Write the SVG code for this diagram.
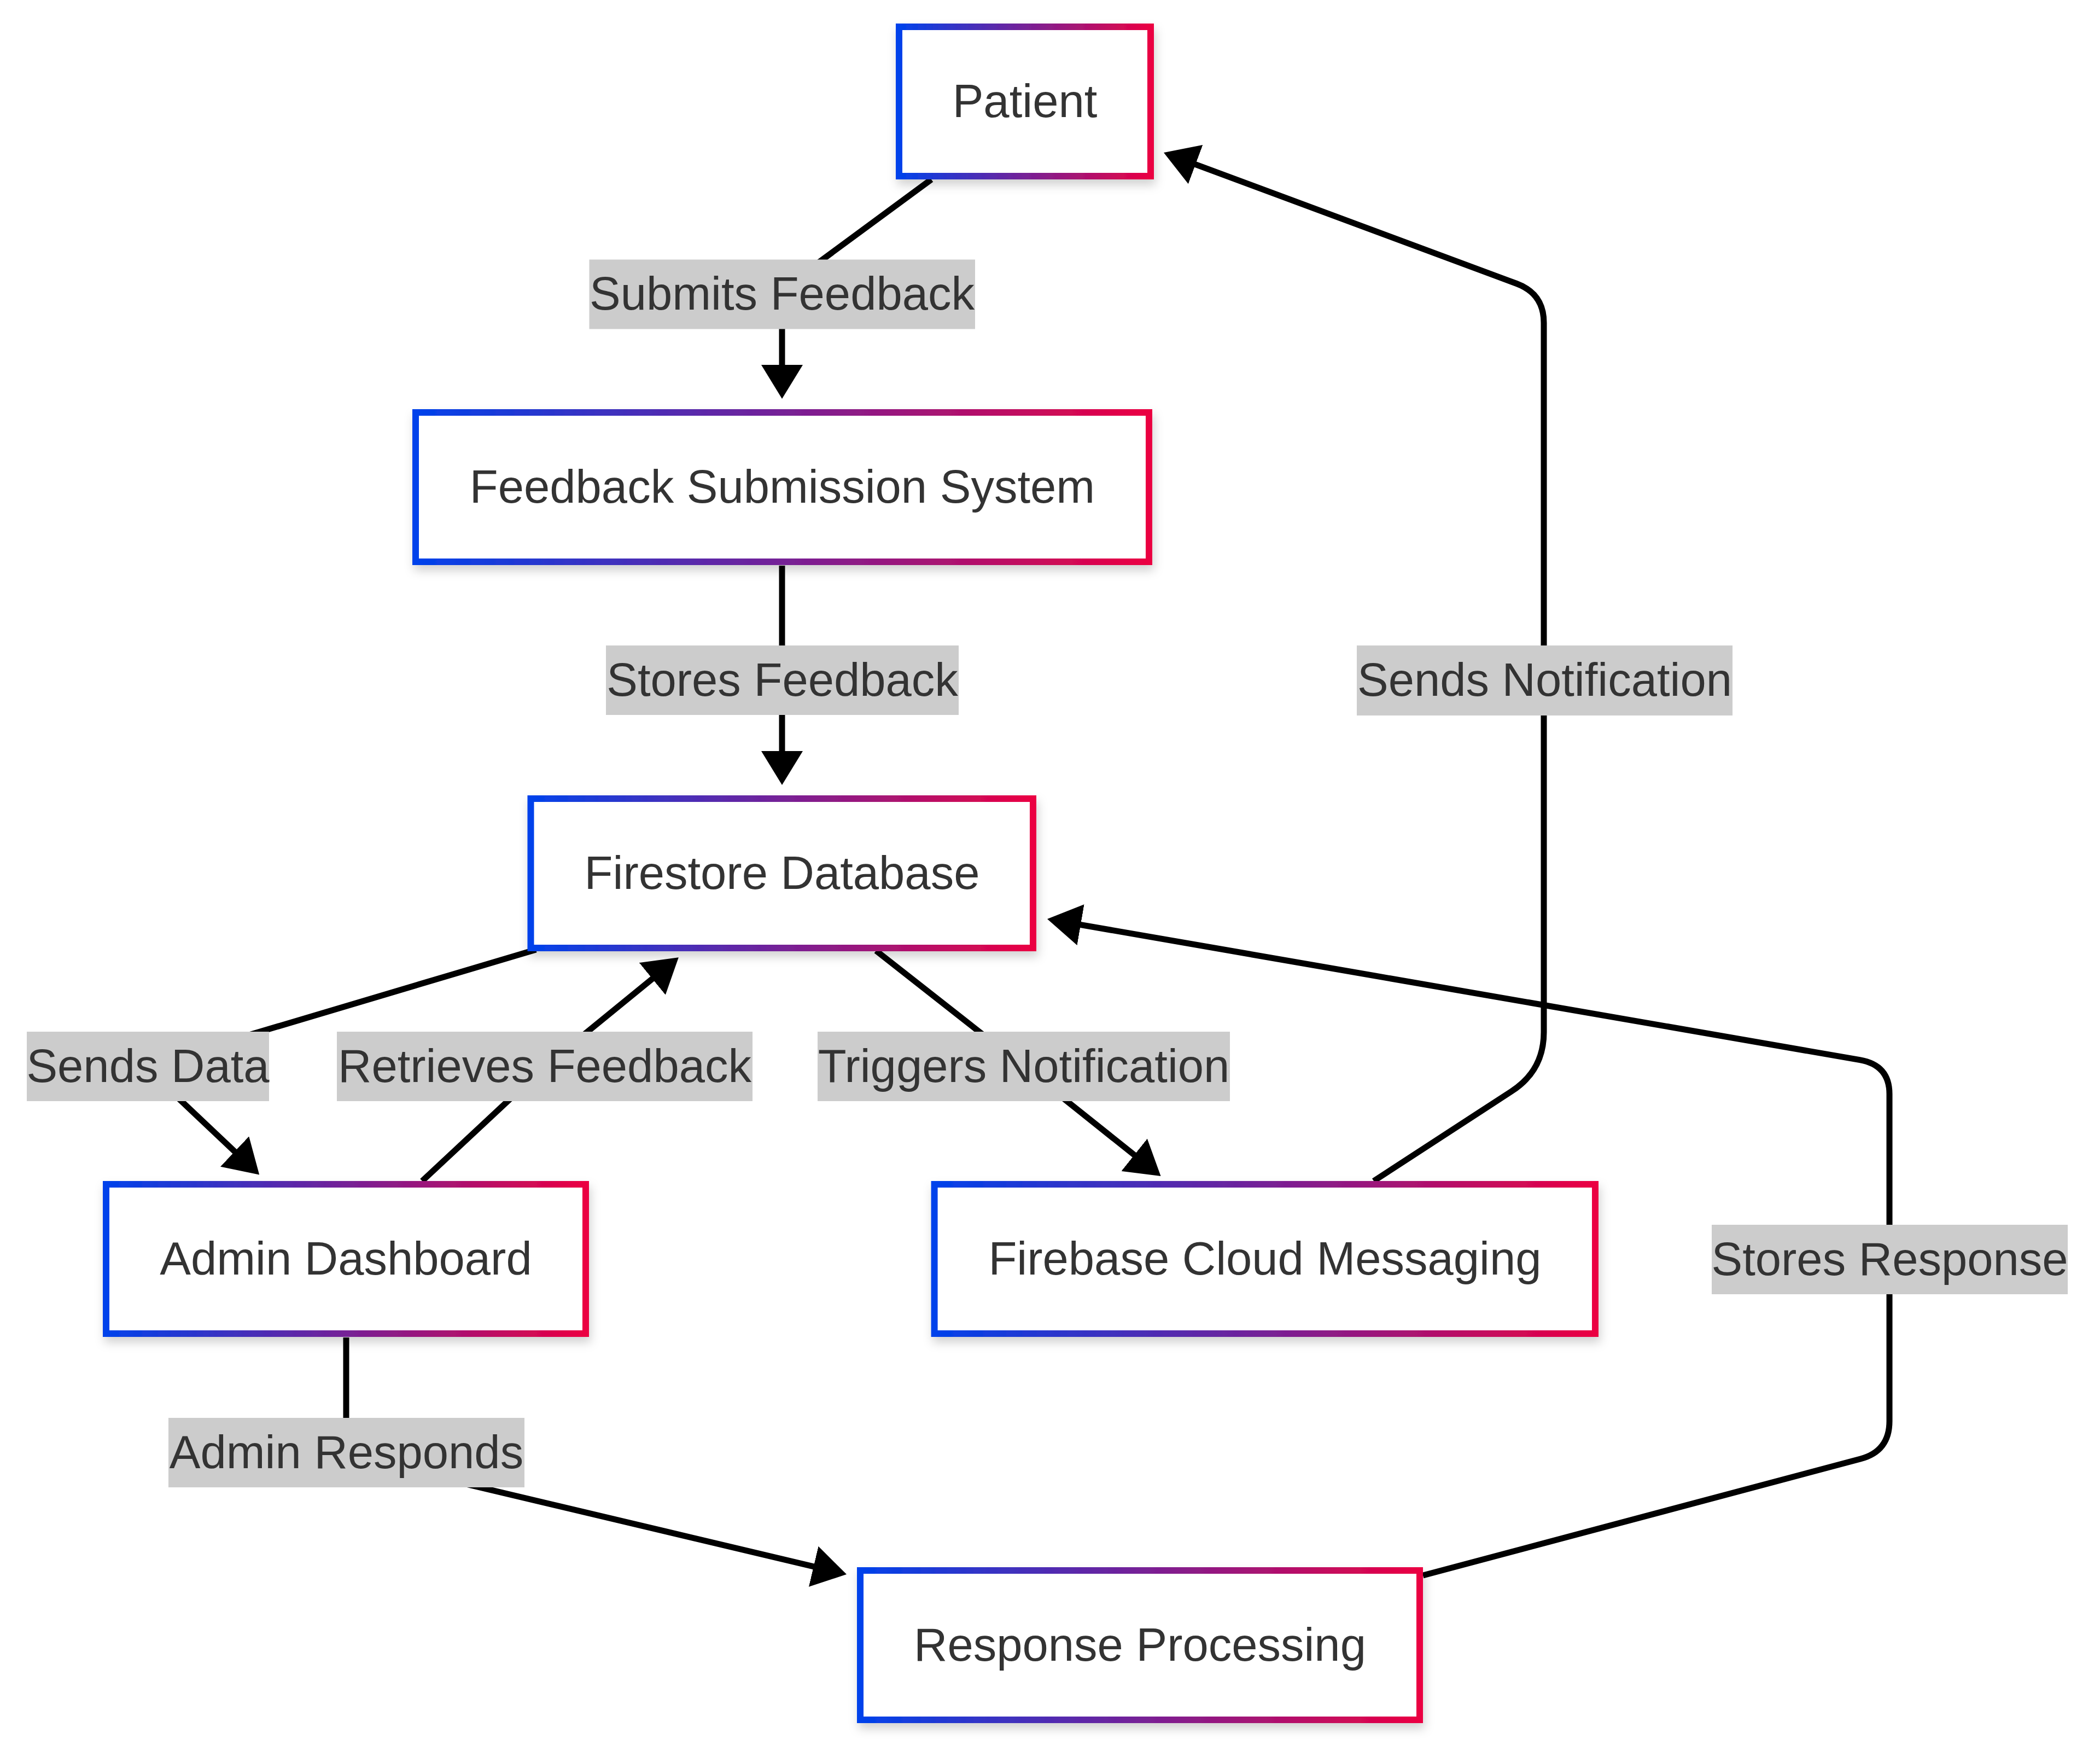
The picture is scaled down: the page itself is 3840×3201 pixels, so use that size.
<svg xmlns="http://www.w3.org/2000/svg" width="3840" height="3201" viewBox="0 0 3840 3201">
<style>
.node rect{fill:#ffffff;stroke:url(#grad);stroke-width:12;filter:url(#shadow);}
.node text{font-family:"Liberation Sans",Arial,sans-serif;font-size:85px;fill:#333333;text-anchor:middle;}
.edge{fill:none;stroke:#000000;stroke-width:11;marker-end:url(#arrow);}
.lbl rect{fill:#cccccc;}
.lbl text{font-family:"Liberation Sans",Arial,sans-serif;font-size:85px;fill:#333333;text-anchor:middle;}
</style>
<defs>
<linearGradient id="grad" x1="0" y1="0" x2="1" y2="0">
<stop offset="0" stop-color="#0042eb"/>
<stop offset="1" stop-color="#eb0042"/>
</linearGradient>
<filter id="shadow" x="-10%" y="-20%" width="120%" height="150%">
<feDropShadow dx="3" dy="10" stdDeviation="9" flood-color="#000000" flood-opacity="0.18"/>
</filter>
<marker id="arrow" markerUnits="userSpaceOnUse" viewBox="0 0 62 76" markerWidth="62" markerHeight="76" refX="48" refY="38" orient="auto">
<path d="M0,0 L62,38 L0,76 z" fill="#000000"/>
</marker>
</defs>
<rect x="0" y="0" width="3840" height="3201" fill="#ffffff"/>
<g id="connectors">
<path class="edge" d="M1703,328 L1430,529 L1430,715"/>
<path class="edge" d="M1430,1034 L1430,1421"/>
<path class="edge" d="M980,1736 L264,1949 L464,2138"/>
<path class="edge" d="M772,2159 L996,1950 L1230,1759"/>
<path class="edge" d="M1602,1738 L1872,1950 L2111.6,2141.3"/>
<path class="edge" d="M2512,2159 L2764,1995 Q2823,1957 2823,1887 L2823,590 Q2823,537 2773.3,518.5 L2141.1,283.9"/>
<path class="edge" d="M2602,2880 L3402,2667 Q3455,2653 3455,2598 L3455,2000 Q3455,1947 3400.8,1937.6 L1928.8,1682.4"/>
<path class="edge" d="M633,2445 L633,2661 L1534.4,2874.8"/>
<g class="lbl" id="label-submits">
<rect x="1077.5" y="474.5" width="705.5" height="127"/>
<text x="1430" y="566">Submits Feedback</text>
</g>
<g class="lbl" id="label-stores-feedback">
<rect x="1108" y="1180" width="645" height="127"/>
<text x="1430.5" y="1271.5">Stores Feedback</text>
</g>
<g class="lbl" id="label-sends-notification">
<rect x="2481" y="1180" width="687" height="128"/>
<text x="2824.5" y="1272">Sends Notification</text>
</g>
<g class="lbl" id="label-sends-data">
<rect x="49" y="1886" width="443" height="127"/>
<text x="270.5" y="1977.5">Sends Data</text>
</g>
<g class="lbl" id="label-retrieves">
<rect x="616" y="1886" width="760" height="127"/>
<text x="996" y="1977.5">Retrieves Feedback</text>
</g>
<g class="lbl" id="label-triggers">
<rect x="1495" y="1886" width="754" height="127"/>
<text x="1872" y="1977.5">Triggers Notification</text>
</g>
<g class="lbl" id="label-stores-response">
<rect x="3130" y="2239" width="651" height="127"/>
<text x="3455.5" y="2330.5">Stores Response</text>
</g>
<g class="lbl" id="label-admin-responds">
<rect x="308" y="2592" width="651" height="127"/>
<text x="633.5" y="2683.5">Admin Responds</text>
</g>
</g>
<g class="node" id="node-patient">
<rect x="1644" y="49" width="460" height="273"/>
<text x="1874" y="213.5">Patient</text>
</g>
<g class="node" id="node-feedback-system">
<rect x="760" y="754" width="1341" height="273"/>
<text x="1430.5" y="919">Feedback Submission System</text>
</g>
<g class="node" id="node-firestore">
<rect x="970.5" y="1460" width="918.5" height="273"/>
<text x="1430" y="1624.5">Firestore Database</text>
</g>
<g class="node" id="node-admin">
<rect x="194" y="2165" width="877" height="273"/>
<text x="632.5" y="2330">Admin Dashboard</text>
</g>
<g class="node" id="node-fcm">
<rect x="1708.6" y="2165" width="1208.4" height="273"/>
<text x="2313" y="2330">Firebase Cloud Messaging</text>
</g>
<g class="node" id="node-response">
<rect x="1573" y="2871" width="1023" height="273"/>
<text x="2084.5" y="3036">Response Processing</text>
</g>
</svg>
